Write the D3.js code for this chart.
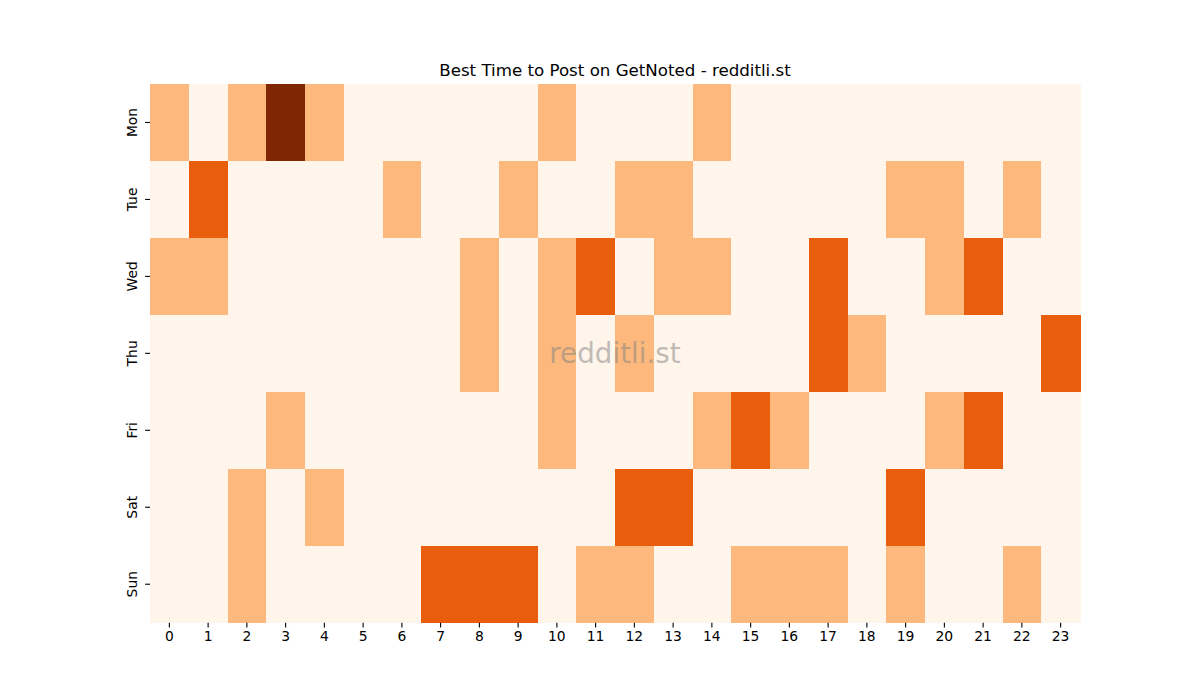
<!DOCTYPE html>
<html>
<head>
<meta charset="utf-8">
<script src="https://cdn.jsdelivr.net/npm/d3@7/dist/d3.min.js"></script>
<style>
  body { margin: 0; background: #fff; }
  svg { display: block; }
  text { font-family: "DejaVu Sans", sans-serif; fill: #000; }
</style>
</head>
<body>
<svg id="chart" width="1200" height="700"></svg>
<script>
const days = ["Mon", "Tue", "Wed", "Thu", "Fri", "Sat", "Sun"];
const hours = d3.range(24).map(String);
const titleText = "Best Time to Post on GetNoted - redditli.st";
const watermark = "redditli.st";

// Level per hour (0..23) for each day
const mon = [1,0,1,3,1,0,0,0,0,0,1,0,0,0,1,0,0,0,0,0,0,0,0,0];
const tue = [0,2,0,0,0,0,1,0,0,1,0,0,1,1,0,0,0,0,0,1,1,0,1,0];
const wed = [1,1,0,0,0,0,0,0,1,0,1,2,0,1,1,0,0,2,0,0,1,2,0,0];
const thu = [0,0,0,0,0,0,0,0,1,0,1,0,1,0,0,0,0,2,1,0,0,0,0,2];
const fri = [0,0,0,1,0,0,0,0,0,0,1,0,0,0,1,2,1,0,0,0,1,2,0,0];
const sat = [0,0,1,0,1,0,0,0,0,0,0,0,2,2,0,0,0,0,0,2,0,0,0,0];
const sun = [0,0,1,0,0,0,0,2,2,2,0,1,1,0,0,1,1,1,0,1,0,0,1,0];
const rows = [mon, tue, wed, thu, fri, sat, sun];

const cells = [];
rows.forEach((r, di) => r.forEach((v, hi) => cells.push({day: days[di], hour: hours[hi], v})));

const pL = 150, pR = 1080, pT = 84, pB = 622.7;
const svg = d3.select("#chart");

const x = d3.scaleBand().domain(hours).range([pL, pR]).padding(0);
const y = d3.scaleBand().domain(days).range([pT, pB]).padding(0);
const color = d3.scaleOrdinal().domain([0,1,2,3]).range(["#fff5eb", "#fdb97d", "#e95e0d", "#7f2704"]);

svg.append("g").selectAll("rect").data(cells).join("rect")
  .attr("x", d => x(d.hour))
  .attr("y", d => y(d.day))
  .attr("width", x.bandwidth() + 0.5)
  .attr("height", y.bandwidth() + 0.5)
  .attr("fill", d => color(d.v))
  .attr("shape-rendering", "crispEdges");

const xAxis = svg.append("g")
  .attr("transform", `translate(0,${pB})`)
  .call(d3.axisBottom(x).tickSize(4.86).tickPadding(3.5));
xAxis.select(".domain").remove();
xAxis.selectAll("text").style("font-size", "13.89px").style("font-family", "DejaVu Sans");
xAxis.selectAll("line").attr("stroke", "#000").attr("stroke-width", 1.1);

const yAxis = svg.append("g")
  .attr("transform", `translate(${pL},0)`)
  .call(d3.axisLeft(y).tickSize(4.86).tickPadding(3.5));
yAxis.select(".domain").remove();
yAxis.selectAll("line").attr("stroke", "#000").attr("stroke-width", 1.1);
yAxis.selectAll("text")
  .style("font-size", "13.89px").style("font-family", "DejaVu Sans")
  .attr("text-anchor", "middle")
  .attr("x", 0).attr("dy", 0)
  .attr("transform", "translate(-13,0) rotate(-90)");

svg.append("text")
  .attr("x", (pL + pR) / 2).attr("y", 76)
  .attr("text-anchor", "middle")
  .style("font-size", "16.67px")
  .text(titleText);

svg.append("text")
  .attr("x", (pL + pR) / 2).attr("y", (pT + pB) / 2)
  .attr("text-anchor", "middle").attr("dominant-baseline", "central")
  .style("font-size", "27.78px")
  .style("fill", "gray").style("fill-opacity", 0.5)
  .text(watermark);
</script>
</body>
</html>
